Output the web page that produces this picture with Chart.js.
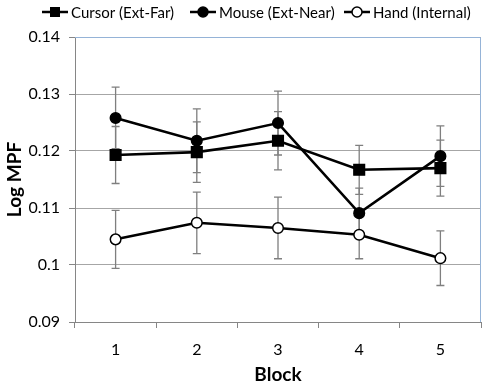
<!DOCTYPE html>
<html>
<head>
<meta charset="utf-8">
<script src="https://cdn.jsdelivr.net/npm/chart.js@4"></script>
<style>
  html, body { margin: 0; padding: 0; background: #fff; }
  #wrap { width: 490px; height: 386px; position: relative; }
</style>
</head>
<body>
<div id="wrap"><canvas id="chart" width="490" height="386"></canvas></div>
<script>
// block numbers on the x axis
const blocks = ['1', '2', '3', '4', '5'];

// mean Log MPF per block
const cursorVals = [0.1193, 0.1198, 0.1218, 0.1167, 0.1170];
const mouseVals  = [0.1258, 0.1218, 0.1249, 0.1091, 0.1191];
const handVals   = [0.1045, 0.1074, 0.1065, 0.1053, 0.1012];

// error bar half-lengths
const cursorErr = [0.0050, 0.0053, 0.0051, 0.0043, 0.0049];
const mouseErr  = [0.0054, 0.0056, 0.0056, 0.0044, 0.0053];
const handErr   = [0.0051, 0.0054, 0.0054, 0.0042, 0.0048];

const seriesNames = ['Cursor (Ext-Far)', 'Mouse (Ext-Near)', 'Hand (Internal)'];

const FONT = 'Lato, "Noto Sans", sans-serif';

// draws the error bars behind the lines, using the chart's own scales
const errorBars = {
  id: 'errorBars',
  beforeDatasetsDraw(chart) {
    const ctx = chart.ctx;
    const yScale = chart.scales.y;
    ctx.save();
    ctx.strokeStyle = '#7f7f7f';
    ctx.lineWidth = 1.3;
    chart.data.datasets.forEach((ds, i) => {
      const meta = chart.getDatasetMeta(i);
      meta.data.forEach((pt, j) => {
        const v = ds.data[j];
        const e = ds.errors[j];
        const yTop = yScale.getPixelForValue(v + e);
        const yBot = yScale.getPixelForValue(v - e);
        ctx.beginPath();
        ctx.moveTo(pt.x, yTop); ctx.lineTo(pt.x, yBot);
        ctx.moveTo(pt.x - 4, yTop); ctx.lineTo(pt.x + 4, yTop);
        ctx.moveTo(pt.x - 4, yBot); ctx.lineTo(pt.x + 4, yBot);
        ctx.stroke();
      });
    });
    ctx.restore();
  }
};

// plot-area frame (blue top/right) and legend with line+marker swatches
const frameAndLegend = {
  id: 'frameAndLegend',
  afterDraw(chart) {
    const ctx = chart.ctx;
    const a = chart.chartArea;
    ctx.save();
    ctx.strokeStyle = '#95b3d7';
    ctx.lineWidth = 1;
    ctx.beginPath();
    ctx.moveTo(a.left, a.top + 0.5);
    ctx.lineTo(a.right - 0.5, a.top + 0.5);
    ctx.lineTo(a.right - 0.5, a.bottom);
    ctx.stroke();

    const starts = [42, 190, 344];
    const ly = 12;
    ctx.font = '15px ' + FONT;
    ctx.textBaseline = 'middle';
    chart.data.datasets.forEach((ds, i) => {
      const x0 = starts[i];
      ctx.strokeStyle = '#000';
      ctx.lineWidth = 2.5;
      ctx.beginPath();
      ctx.moveTo(x0, ly); ctx.lineTo(x0 + 26, ly);
      ctx.stroke();
      ctx.lineWidth = 1.5;
      ctx.fillStyle = ds.pointBackgroundColor;
      if (ds.pointStyle === 'rect') {
        ctx.fillStyle = '#000';
        ctx.fillRect(x0 + 8, ly - 5, 10, 10);
      } else {
        ctx.beginPath();
        ctx.arc(x0 + 13, ly, 5, 0, Math.PI * 2);
        ctx.fill();
        ctx.stroke();
      }
      ctx.fillStyle = '#000';
      ctx.textAlign = 'left';
      ctx.fillText(ds.label, x0 + 29, ly + 1);
    });
    ctx.restore();
  }
};

function series(label, vals, errs, style, fill, radius) {
  return {
    label: label,
    data: vals,
    errors: errs,
    borderColor: '#000',
    borderWidth: 2.6,
    pointStyle: style,
    pointRadius: radius,
    pointHoverRadius: radius,
    pointBackgroundColor: fill,
    pointBorderColor: '#000',
    pointBorderWidth: 1.5,
    tension: 0
  };
}

const chart = new Chart(document.getElementById('chart'), {
  type: 'line',
  data: {
    labels: blocks,
    datasets: [
      series(seriesNames[0], cursorVals, cursorErr, 'rect', '#000', 7.5),
      series(seriesNames[1], mouseVals, mouseErr, 'circle', '#000', 5.3),
      series(seriesNames[2], handVals, handErr, 'circle', '#fff', 5.3)
    ]
  },
  options: {
    responsive: false,
    animation: false,
    layout: { padding: { top: 37, right: 5, left: 0, bottom: 0 } },
    plugins: {
      legend: { display: false },
      tooltip: { enabled: false }
    },
    scales: {
      x: {
        offset: true,
        afterFit(scale) { scale.height = 64; },
        grid: {
          offset: true,
          drawOnChartArea: false,
          drawTicks: true,
          tickLength: 6,
          color: '#868686'
        },
        border: { color: '#868686', width: 1 },
        ticks: { color: '#000', padding: 12, font: { family: FONT, size: 16 } },
        title: {
          display: true,
          text: 'Block',
          color: '#000',
          padding: { top: 0, bottom: 0 },
          font: { family: FONT, size: 19, weight: 'bold' }
        }
      },
      y: {
        min: 0.09,
        max: 0.14,
        afterFit(scale) { scale.width = 75; },
        grid: {
          color: '#a6a6a6',
          tickColor: '#868686',
          tickLength: 6
        },
        border: { color: '#868686', width: 1 },
        ticks: {
          stepSize: 0.01,
          color: '#000',
          padding: 9,
          font: { family: FONT, size: 16 },
          callback: (v) => String(Math.round(v * 100) / 100)
        },
        title: {
          display: true,
          text: 'Log MPF',
          color: '#000',
          padding: { top: 3, bottom: 0 },
          font: { family: FONT, size: 19, weight: 'bold' }
        }
      }
    }
  },
  plugins: [errorBars, frameAndLegend]
});
</script>
</body>
</html>
